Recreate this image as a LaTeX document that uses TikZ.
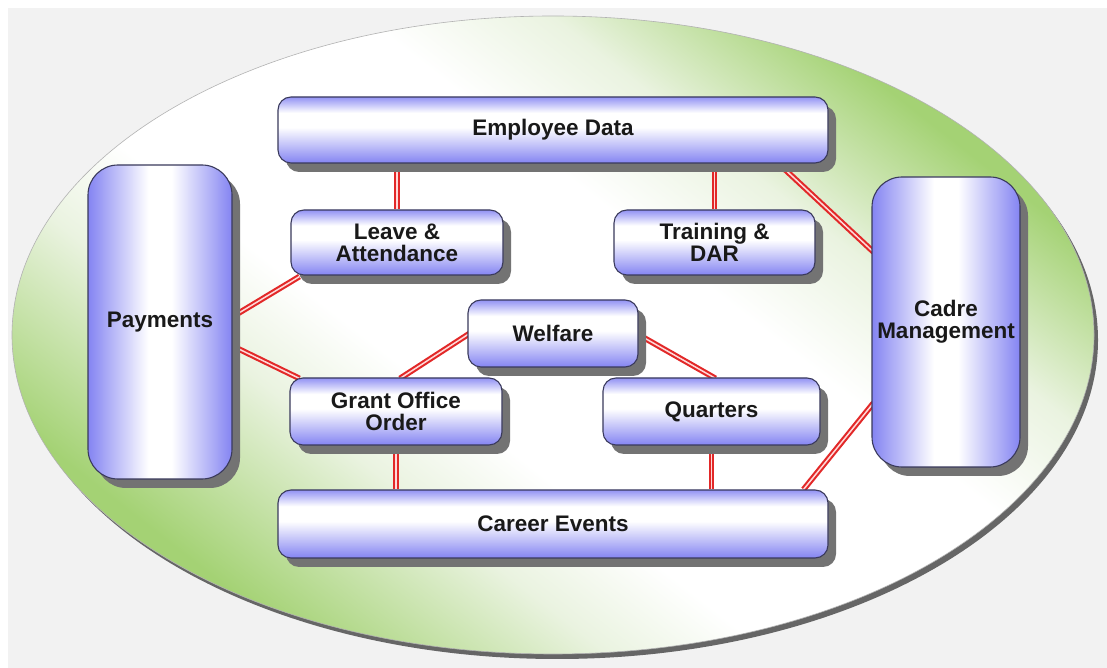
\documentclass[tikz,border=0pt]{standalone}
\usepackage{fontspec}
\setmainfont{Liberation Sans}
\usetikzlibrary{calc,shadows}

\definecolor{boxblue}{RGB}{132,132,242}
\definecolor{boxbluetop}{RGB}{146,146,244}
\definecolor{boxline}{RGB}{58,58,92}
\definecolor{ringgreen}{RGB}{164,210,116}
\definecolor{ringpale}{RGB}{234,243,224}
\definecolor{linkred}{RGB}{226,40,40}
\definecolor{bggray}{RGB}{242,242,242}

\pgfdeclareverticalshading{barshade}{100bp}{color(0bp)=(boxblue); color(25bp)=(boxblue); color(52bp)=(white); color(63bp)=(white); color(75bp)=(boxbluetop); color(100bp)=(boxbluetop)}
\pgfdeclarehorizontalshading{colshade}{100bp}{color(0bp)=(boxblue); color(25bp)=(boxblue); color(46bp)=(white); color(54bp)=(white); color(75bp)=(boxblue); color(100bp)=(boxblue)}
\pgfdeclareverticalshading{ringshade}{100bp}{color(0bp)=(ringgreen); color(26bp)=(ringgreen); color(37bp)=(ringpale); color(43bp)=(white); color(58bp)=(white); color(65bp)=(ringpale); color(74bp)=(ringgreen); color(100bp)=(ringgreen)}

\pgfdeclarelayer{ring}
\pgfdeclarelayer{links}
\pgfsetlayers{ring,links,main}

\begin{document}
\begin{tikzpicture}[x=1pt,y=1pt,
                    box/.style={draw=boxline, line width=1.1pt, rounded corners=13pt, shading=barshade,
                      drop shadow={shadow xshift=8pt, shadow yshift=-9pt, fill=black!55, opacity=1},
                      font=\bfseries\fontsize{22.5}{22}\selectfont, text=black!90, align=center, inner sep=1pt},
                    tallbox/.style={box, rounded corners=30pt, shading=colshade},
                    link/.style={draw=linkred, line width=2.1pt, double=white!85!red, double distance=1.5pt}]
                    \useasboundingbox (0,0) rectangle (1107,668);
                    % modules
                    \node[box, minimum width=550pt, minimum height=66pt] (emp) at (553,538) {Employee Data};
                    \node[box, minimum width=212pt, minimum height=65pt] (leave) at (397,425.5) {Leave \&\\Attendance};
                    \node[box, minimum width=201pt, minimum height=65pt] (train) at (714.5,425.5) {Training \&\\DAR};
                    \node[tallbox, minimum width=144pt, minimum height=314pt] (pay) at (160,346) {Payments};
                    \node[tallbox, minimum width=148pt, minimum height=290pt] (cadre) at (946,346) {Cadre\\Management};
                    \node[box, minimum width=170pt, minimum height=67pt] (welf) at (553,334.5) {Welfare};
                    \node[box, minimum width=212pt, minimum height=67pt] (grant) at (396,256.5) {Grant Office\\Order};
                    \node[box, minimum width=217pt, minimum height=67pt] (quart) at (711.5,256.5) {Quarters};
                    \node[box, minimum width=550pt, minimum height=68pt] (career) at (553,144) {Career Events};
                    % backdrop and green ring
                    \begin{pgfonlayer}{ring}
                    \fill[white] (0,0) rectangle (1107,668);
                    \fill[bggray] (8,0) rectangle (1107,660);
                    \path[draw=black!30, line width=0.6pt, shading=ringshade, shading angle=-38,
                      drop shadow={shadow xshift=4pt, shadow yshift=-5pt, fill=black!60, opacity=1}]
                      (553,333) ellipse [x radius=541, y radius=319];
                    \end{pgfonlayer}
                    % double red links, kept under the boxes and their shadows
                    \begin{pgfonlayer}{links}
                    \draw[link] (leave.north |- emp.south) -- (leave.north);
                    \draw[link] (train.north |- emp.south) -- (train.north);
                    \draw[link] ($(emp.south east)+(-50,0)$) -- ($(cadre.west)+(2,70)$);
                    \draw[link] ($(pay.east)+(-2,4)$) -- ($(leave.south west)+(9,-1)$);
                    \draw[link] ($(pay.east)+(-2,-23)$) -- ($(grant.north west)+(10,-1)$);
                    \draw[link] ($(welf.west)+(2,0)$) -- ($(grant.north)+(4,-1)$);
                    \draw[link] ($(welf.east)+(-2,0)$) -- ($(quart.north)+(4,-1)$);
                    \draw[link] (grant.south) -- (grant.south |- career.north);
                    \draw[link] (quart.south) -- (quart.south |- career.north);
                    \draw[link] ($(career.north east)+(-25,0)$) -- ($(cadre.west)+(2,-81)$);
                    \end{pgfonlayer}
                \end{tikzpicture}
\end{document}
